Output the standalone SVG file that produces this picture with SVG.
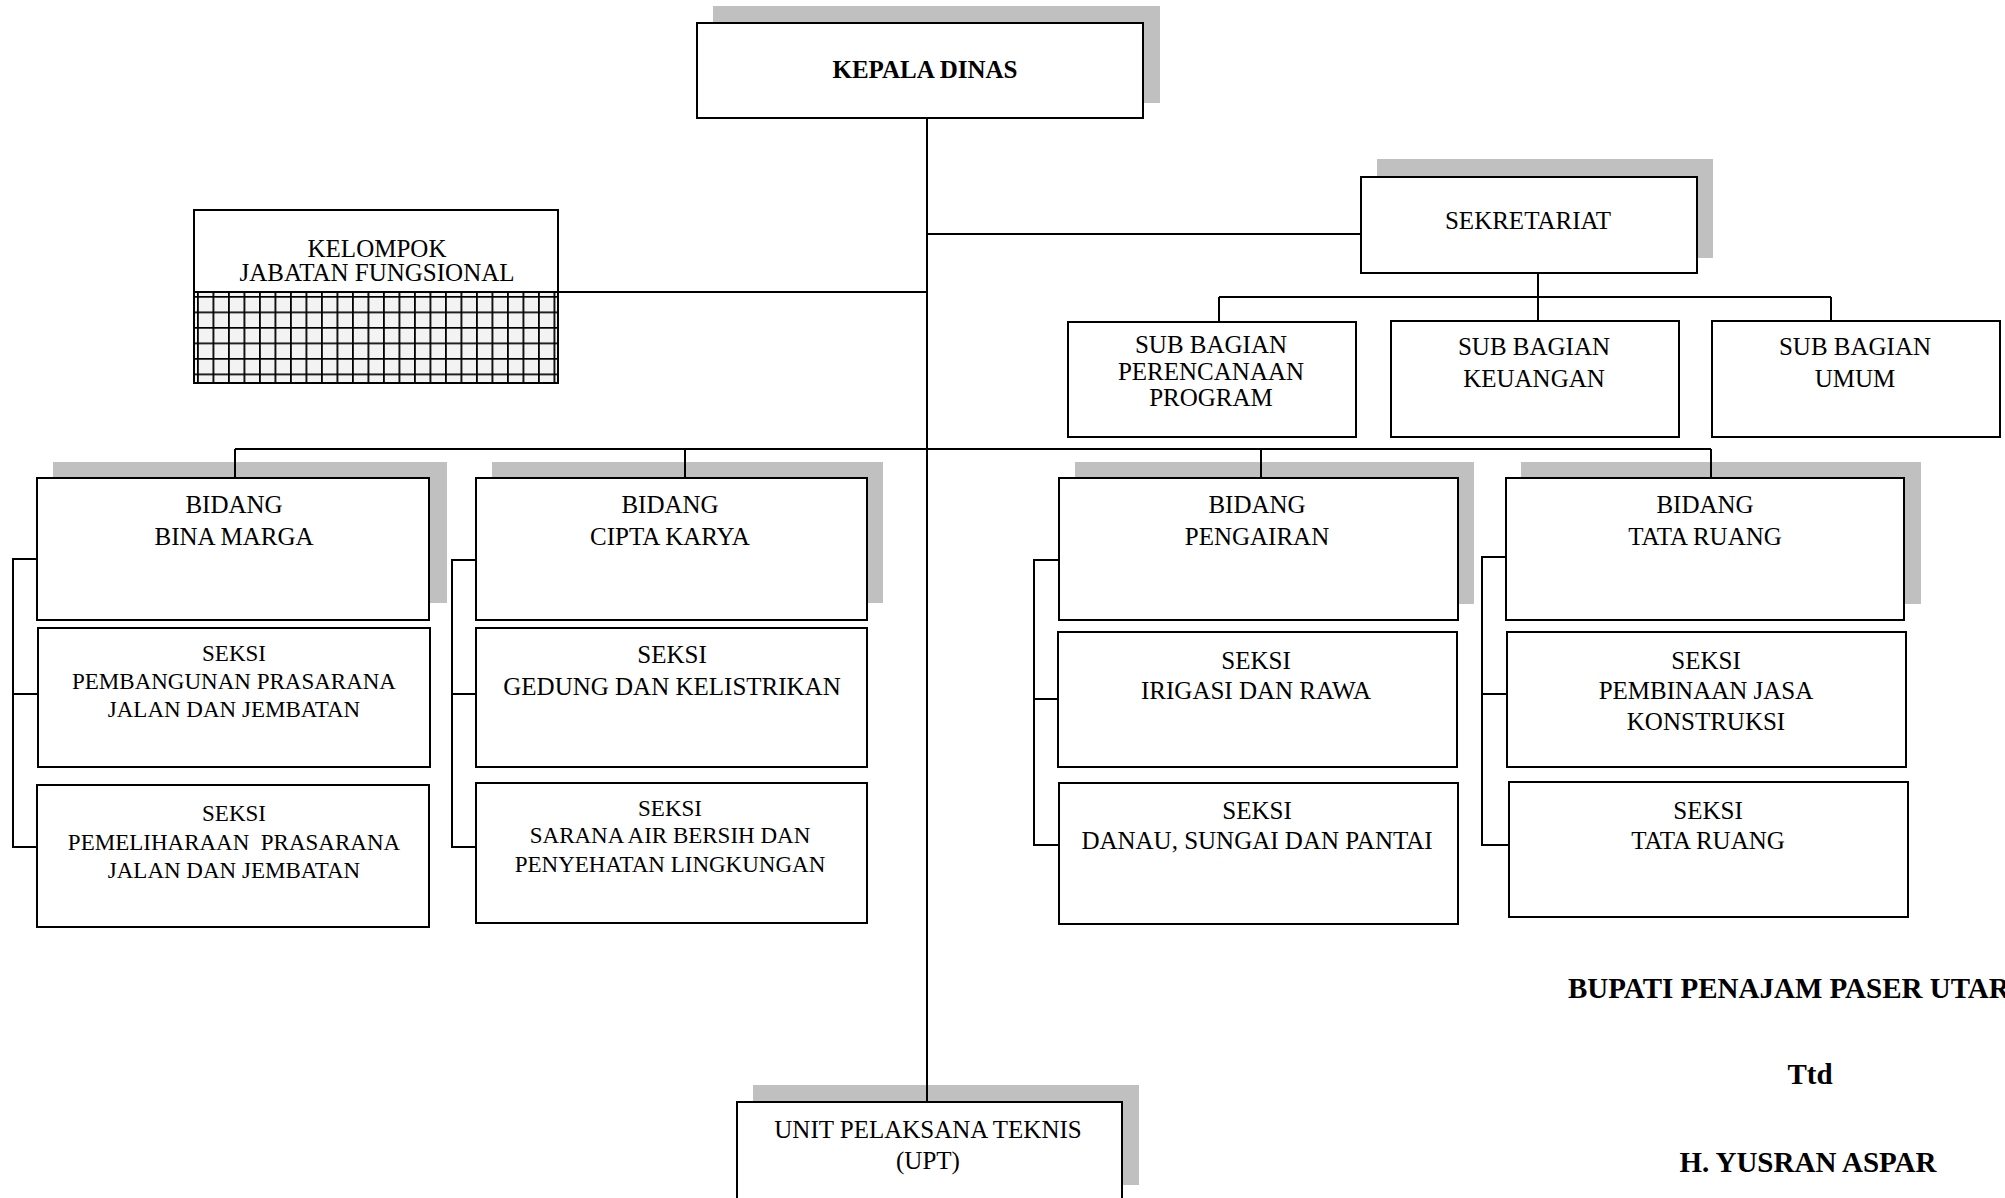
<svg xmlns="http://www.w3.org/2000/svg" width="2005" height="1198" viewBox="0 0 2005 1198">
<style>
.box{fill:#fff;stroke:#000;stroke-width:2}
.sh{fill:#c0c0c0}
.t{font-family:"Liberation Serif",serif;font-size:25px;text-anchor:middle;fill:#000}
.s{font-size:23px}
.b{font-weight:bold}
.sig{font-family:"Liberation Serif",serif;font-size:29px;font-weight:bold;fill:#000}
.conn{stroke:#000;stroke-width:2;fill:none}
</style>
<defs>
<pattern id="grid" x="197" y="296" width="15.5" height="15.5" patternUnits="userSpaceOnUse">
<rect width="15.5" height="15.5" fill="#f3f3f3"/>
<path d="M0.9,0 V15.5 M0,0.9 H15.5" stroke="#000" stroke-width="1.8"/>
</pattern>
</defs>
<rect width="2005" height="1198" fill="#fff"/>

<g id="kepala-dinas">
<rect class="sh" x="713" y="6" width="447" height="97"/>
<rect class="box" x="697" y="23" width="446" height="95"/>
<text class="t b" x="925" y="78">KEPALA DINAS</text>
</g>

<g id="kelompok-jabatan-fungsional">
<rect x="194" y="292" width="364" height="91" fill="url(#grid)"/>
<rect x="194" y="210" width="364" height="173" fill="none" stroke="#000" stroke-width="2"/>
<line x1="194" y1="292" x2="558" y2="292" stroke="#000" stroke-width="2"/>
<text class="t"><tspan x="377" y="257">KELOMPOK</tspan><tspan x="377" y="281">JABATAN FUNGSIONAL</tspan></text>
</g>

<g id="sekretariat">
<rect class="sh" x="1377" y="159" width="336" height="99"/>
<rect class="box" x="1361" y="177" width="336" height="96"/>
<text class="t" x="1528" y="229">SEKRETARIAT</text>
</g>

<g id="sub-perencanaan">
<rect class="box" x="1068" y="322" width="288" height="115"/>
<text class="t"><tspan x="1211" y="353">SUB BAGIAN</tspan><tspan x="1211" y="380">PERENCANAAN</tspan><tspan x="1211" y="406">PROGRAM</tspan></text>
</g>
<g id="sub-keuangan">
<rect class="box" x="1391" y="321" width="288" height="116"/>
<text class="t"><tspan x="1534" y="355">SUB BAGIAN</tspan><tspan x="1534" y="387">KEUANGAN</tspan></text>
</g>
<g id="sub-umum">
<rect class="box" x="1712" y="321" width="288" height="116"/>
<text class="t"><tspan x="1855" y="355">SUB BAGIAN</tspan><tspan x="1855" y="387">UMUM</tspan></text>
</g>

<g id="bidang-bina-marga">
<rect class="sh" x="53" y="462" width="394" height="141"/>
<rect class="box" x="37" y="478" width="392" height="142"/>
<text class="t"><tspan x="234" y="513">BIDANG</tspan><tspan x="234" y="545">BINA MARGA</tspan></text>
</g>
<g id="seksi-pembangunan">
<rect class="box" x="38" y="628" width="392" height="139"/>
<text class="t s"><tspan x="234" y="661">SEKSI</tspan><tspan x="234" y="689">PEMBANGUNAN PRASARANA</tspan><tspan x="234" y="717">JALAN DAN JEMBATAN</tspan></text>
</g>
<g id="seksi-pemeliharaan">
<rect class="box" x="37" y="785" width="392" height="142"/>
<text class="t s"><tspan x="234" y="821">SEKSI</tspan><tspan x="234" y="850" xml:space="preserve">PEMELIHARAAN  PRASARANA</tspan><tspan x="234" y="878">JALAN DAN JEMBATAN</tspan></text>
</g>

<g id="bidang-cipta-karya">
<rect class="sh" x="492" y="462" width="391" height="141"/>
<rect class="box" x="476" y="478" width="391" height="142"/>
<text class="t"><tspan x="670" y="513">BIDANG</tspan><tspan x="670" y="545">CIPTA KARYA</tspan></text>
</g>
<g id="seksi-gedung">
<rect class="box" x="476" y="628" width="391" height="139"/>
<text class="t"><tspan x="672" y="663">SEKSI</tspan><tspan x="672" y="695">GEDUNG DAN KELISTRIKAN</tspan></text>
</g>
<g id="seksi-sarana-air">
<rect class="box" x="476" y="783" width="391" height="140"/>
<text class="t s"><tspan x="670" y="816">SEKSI</tspan><tspan x="670" y="843">SARANA AIR BERSIH DAN</tspan><tspan x="670" y="872">PENYEHATAN LINGKUNGAN</tspan></text>
</g>

<g id="bidang-pengairan">
<rect class="sh" x="1075" y="462" width="399" height="142"/>
<rect class="box" x="1059" y="478" width="399" height="142"/>
<text class="t"><tspan x="1257" y="513">BIDANG</tspan><tspan x="1257" y="545">PENGAIRAN</tspan></text>
</g>
<g id="seksi-irigasi">
<rect class="box" x="1058" y="632" width="399" height="135"/>
<text class="t"><tspan x="1256" y="669">SEKSI</tspan><tspan x="1256" y="699">IRIGASI DAN RAWA</tspan></text>
</g>
<g id="seksi-danau">
<rect class="box" x="1059" y="783" width="399" height="141"/>
<text class="t"><tspan x="1257" y="819">SEKSI</tspan><tspan x="1257" y="849">DANAU, SUNGAI DAN PANTAI</tspan></text>
</g>

<g id="bidang-tata-ruang">
<rect class="sh" x="1521" y="462" width="400" height="142"/>
<rect class="box" x="1506" y="478" width="398" height="142"/>
<text class="t"><tspan x="1705" y="513">BIDANG</tspan><tspan x="1705" y="545">TATA RUANG</tspan></text>
</g>
<g id="seksi-pembinaan-jasa">
<rect class="box" x="1507" y="632" width="399" height="135"/>
<text class="t"><tspan x="1706" y="669">SEKSI</tspan><tspan x="1706" y="699">PEMBINAAN JASA</tspan><tspan x="1706" y="730">KONSTRUKSI</tspan></text>
</g>
<g id="seksi-tata-ruang">
<rect class="box" x="1509" y="782" width="399" height="135"/>
<text class="t"><tspan x="1708" y="819">SEKSI</tspan><tspan x="1708" y="849">TATA RUANG</tspan></text>
</g>

<g id="upt">
<rect class="sh" x="753" y="1085" width="386" height="100"/>
<rect class="box" x="737" y="1102" width="385" height="110"/>
<text class="t"><tspan x="928" y="1138">UNIT PELAKSANA TEKNIS</tspan><tspan x="928" y="1169">(UPT)</tspan></text>
</g>

<g id="connectors" class="conn">
<path d="M927,118 V1102"/>
<path d="M558,292 H927"/>
<path d="M927,234 H1361"/>
<path d="M1538,273 V297 M1219,297 H1831 M1219,297 V322 M1538,297 V321 M1831,297 V321"/>
<path d="M235,449 H1711 M235,449 V478 M685,449 V478 M1261,449 V478 M1711,449 V478"/>
<path d="M37,559 H13 V847 H37 M13,694 H38"/>
<path d="M476,560 H452 V847 H476 M452,694 H476"/>
<path d="M1059,560 H1034 V845 H1059 M1034,699 H1058"/>
<path d="M1506,557 H1482 V845 H1509 M1482,694 H1507"/>
</g>

<g id="signature">
<text class="sig" x="1568" y="998">BUPATI PENAJAM PASER UTARA</text>
<text class="sig" x="1810" y="1084" text-anchor="middle">Ttd</text>
<text class="sig" x="1808" y="1172" text-anchor="middle">H. YUSRAN ASPAR</text>
</g>
</svg>
